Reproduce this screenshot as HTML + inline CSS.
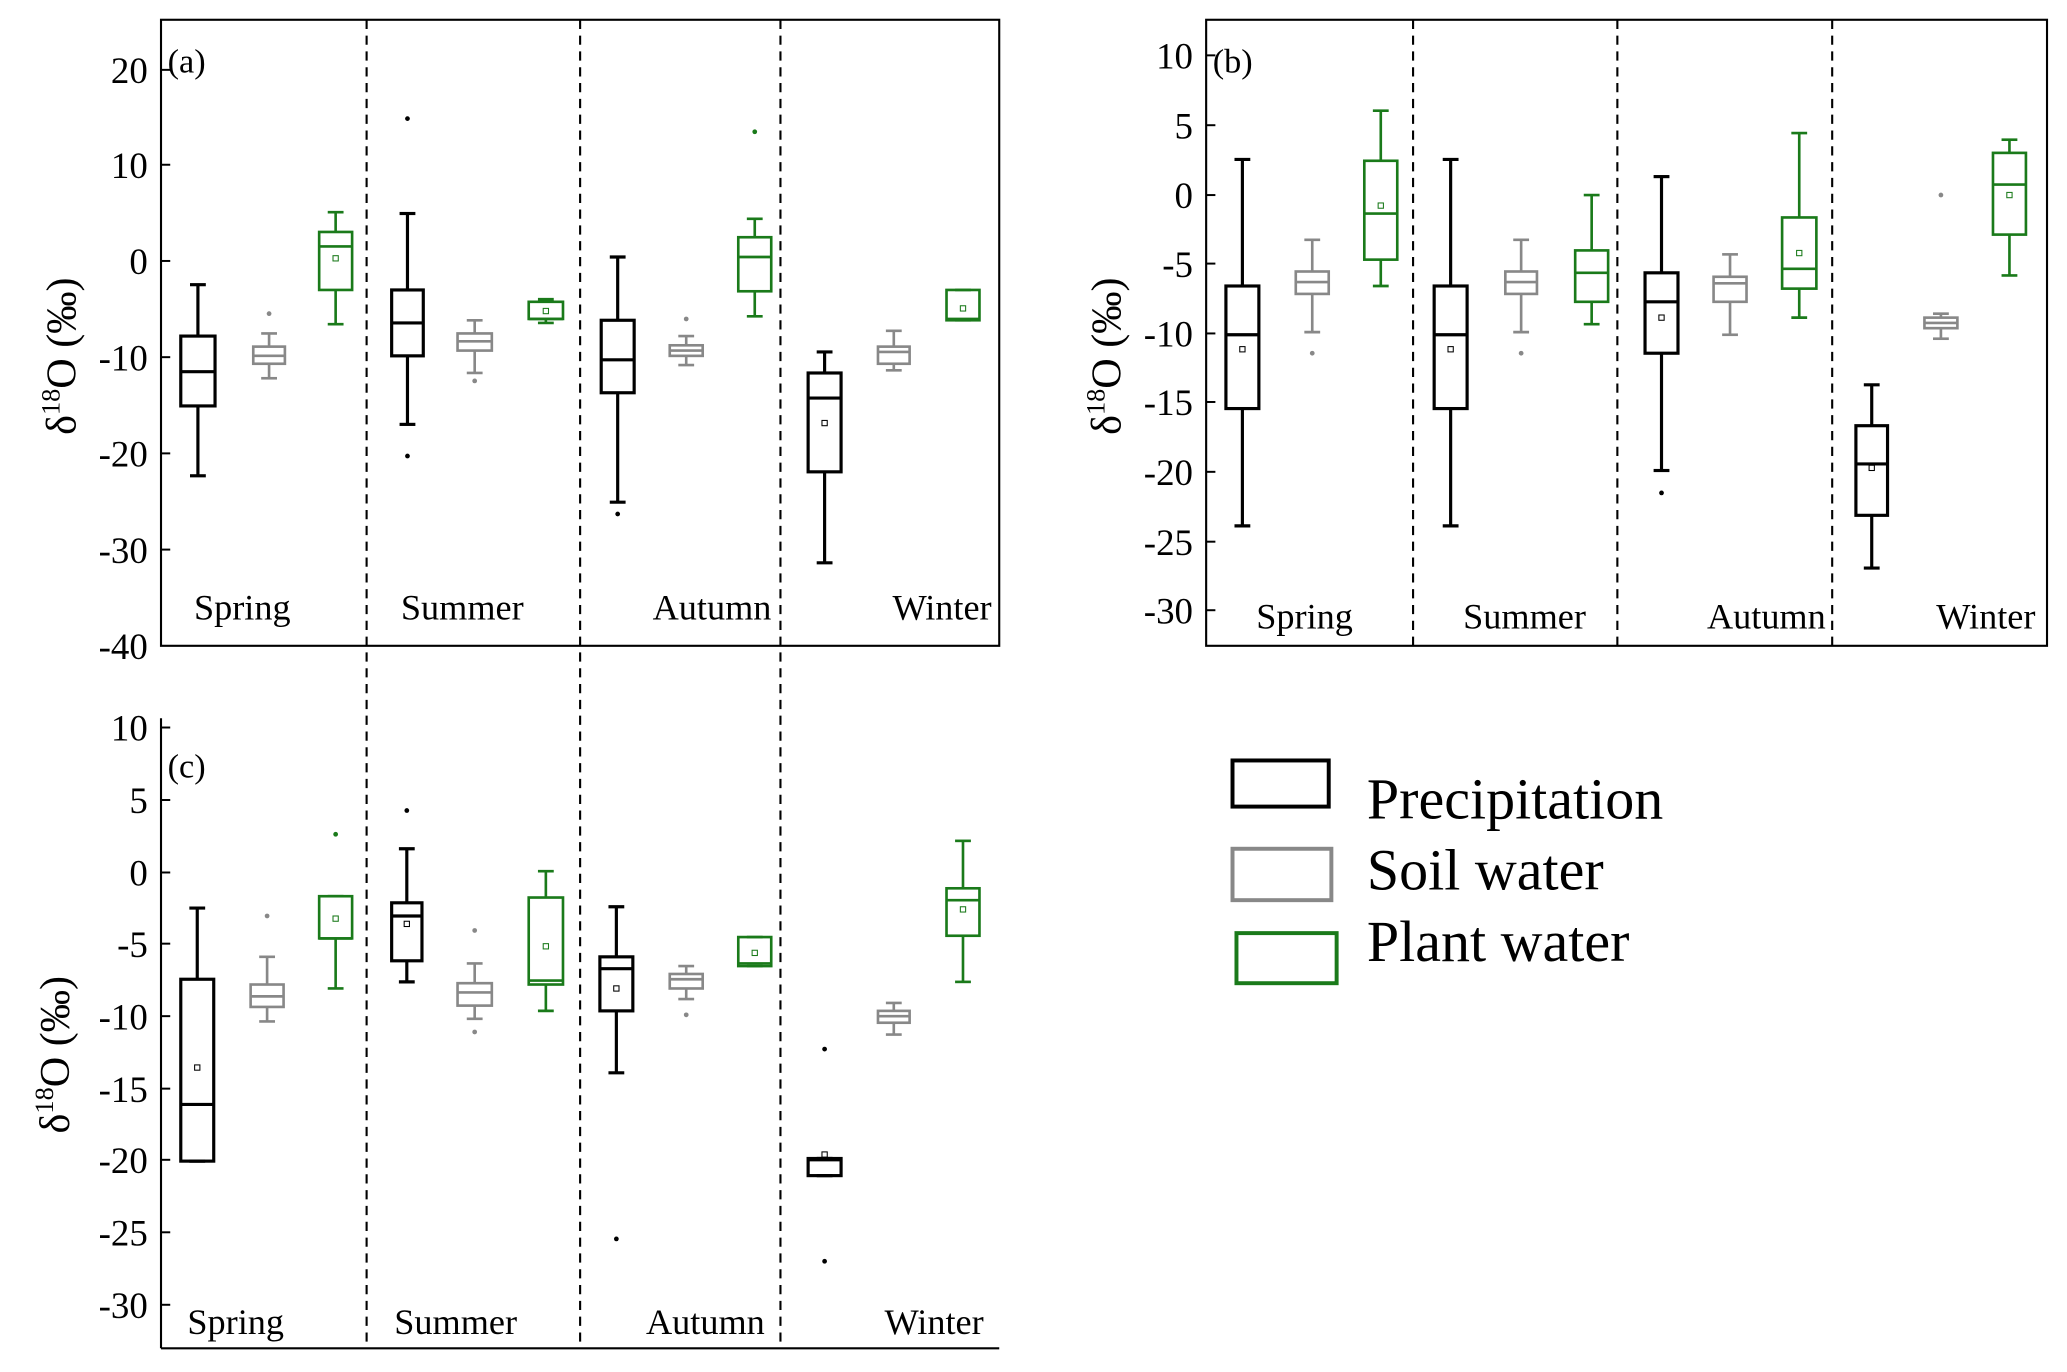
<!DOCTYPE html>
<html><head><meta charset="utf-8"><style>
html,body{margin:0;padding:0;background:#fff;}
svg{display:block}
text{font-family:"Liberation Serif",serif;fill:#000}
</style></head><body>
<svg id="s" width="2067" height="1372" viewBox="0 0 1568 1041" xmlns="http://www.w3.org/2000/svg">
<g stroke="#000" stroke-width="1.6" fill="none">
<rect x="122" y="15" width="636" height="475"/>
<rect x="915" y="15" width="638" height="475"/>
<line x1="122" y1="545" x2="122" y2="1023"/>
<line x1="122" y1="1023" x2="758" y2="1023"/>
</g>
<g stroke="#000" stroke-width="1.6" stroke-dasharray="7,5">
<line x1="278" y1="15" x2="278" y2="1023"/>
<line x1="440" y1="15" x2="440" y2="1023"/>
<line x1="592" y1="15" x2="592" y2="1023"/>
<line x1="1072" y1="15" x2="1072" y2="490"/>
<line x1="1227" y1="15" x2="1227" y2="490"/>
<line x1="1390" y1="15" x2="1390" y2="490"/>
</g>
<g id="ticks" stroke="#000" stroke-width="1.5"></g>
<g id="boxes"></g>
<g font-size="28" text-anchor="end">
<text x="112" y="63">20</text><text x="112" y="135">10</text><text x="112" y="208">0</text><text x="112" y="281">-10</text><text x="112" y="354">-20</text><text x="112" y="427">-30</text><text x="112" y="500">-40</text>
<text x="905" y="52">10</text><text x="905" y="105">5</text><text x="905" y="158">0</text><text x="905" y="210">-5</text><text x="905" y="263">-10</text><text x="905" y="315">-15</text><text x="905" y="368">-20</text><text x="905" y="421">-25</text><text x="905" y="473">-30</text>
<text x="112" y="562">10</text><text x="112" y="617">5</text><text x="112" y="672">0</text><text x="112" y="726">-5</text><text x="112" y="781">-10</text><text x="112" y="836">-15</text><text x="112" y="890">-20</text><text x="112" y="945">-25</text><text x="112" y="1000">-30</text>
</g>
<g font-size="26">
<text x="127" y="55">(a)</text><text x="920" y="55">(b)</text><text x="127" y="590">(c)</text>
</g>
<g font-size="27.5">
<text x="147" y="470">Spring</text><text x="304" y="470">Summer</text><text x="495" y="470">Autumn</text><text x="677" y="470">Winter</text>
<text x="953" y="477">Spring</text><text x="1110" y="477">Summer</text><text x="1295" y="477">Autumn</text><text x="1469" y="477">Winter</text>
<text x="142" y="1012">Spring</text><text x="299" y="1012">Summer</text><text x="490" y="1012">Autumn</text><text x="671" y="1012">Winter</text>
</g>
<g font-size="32">
<text transform="translate(57,330) rotate(-90)">δ<tspan font-size="20" dy="-12">18</tspan><tspan dy="12">O (‰)</tspan></text>
<text transform="translate(850,330) rotate(-90)">δ<tspan font-size="20" dy="-12">18</tspan><tspan dy="12">O (‰)</tspan></text>
<text transform="translate(52,860) rotate(-90)">δ<tspan font-size="20" dy="-12">18</tspan><tspan dy="12">O (‰)</tspan></text>
</g>
<g fill="none" stroke-width="3">
<rect x="935" y="577" width="73" height="35" stroke="#000"/>
<rect x="935" y="644" width="75" height="39" stroke="#888"/>
<rect x="938" y="708" width="76" height="38" stroke="#1a7a1a"/>
</g>
<g font-size="44">
<text x="1037" y="621">Precipitation</text>
<text x="1037" y="675">Soil water</text>
<text x="1037" y="729">Plant water</text>
</g>
</svg>
<script>
var K="#000",G="#888",V="#1a7a1a";
var B=[
[137,163,216,255,282,308,361,null,[],K],[192,216,253,263,270,276,287,null,[238],G],[242,267,161,176,187,220,246,196,[],V],
[297,321,162,220,245,270,322,null,[90,346],K],[347,373,243,253,259,266,283,null,[289],G],[401,427,227,229,242,242,245,236,[],V],
[456,481,195,243,273,298,381,null,[390],K],[508,533,255,262,266,270,277,null,[242],G],[560,585,166,180,195,221,240,null,[100],V],
[613,638,267,283,302,358,427,321,[],K],[666,690,251,263,267,276,281,null,[],G],[718,743,220,220,242,243,243,234,[],V],
[930,955,121,217,254,310,399,265,[],K],[983,1008,182,206,214,223,252,null,[268],G],[1035,1060,84,122,162,197,217,156,[],V],
[1088,1113,121,217,254,310,399,265,[],K],[1142,1166,182,206,214,223,252,null,[268],G],[1195,1220,148,190,207,229,246,null,[],V],
[1248,1273,134,207,229,268,357,241,[374],K],[1300,1325,193,210,215,229,254,null,[],G],[1352,1378,101,165,204,219,241,192,[],V],
[1408,1432,292,323,352,391,431,355,[],K],[1460,1485,238,241,245,249,257,null,[148],G],[1512,1537,106,116,140,178,209,148,[],V],
[137,162,689,743,838,881,881,810,[],K],[190,215,726,747,756,764,775,null,[695],G],[242,267,680,680,712,712,750,697,[633],V],
[297,320,644,685,695,729,745,701,[615],K],[347,373,731,746,753,763,773,null,[783,706],G],[401,427,661,681,744,747,767,718,[],V],
[455,480,688,726,735,767,814,750,[940],K],[508,533,733,739,743,750,758,null,[770],G],[560,585,711,711,731,733,733,723,[],V],
[613,638,879,879,880,892,892,876,[796,957],K],[666,690,761,767,771,776,785,null,[],G],[718,743,638,674,683,710,745,690,[],V]
];
var h="";
B.forEach(function(b){var x1=b[0],x2=b[1],c=(x1+x2)/2,col=b[9],w=b[9]==K?2.4:2;
h+='<g stroke="'+col+'" stroke-width="'+w+'" fill="none">';
h+='<line x1="'+c+'" y1="'+b[2]+'" x2="'+c+'" y2="'+b[3]+'"/><line x1="'+c+'" y1="'+b[5]+'" x2="'+c+'" y2="'+b[6]+'"/>';
h+='<line x1="'+(c-6)+'" y1="'+b[2]+'" x2="'+(c+6)+'" y2="'+b[2]+'"/><line x1="'+(c-6)+'" y1="'+b[6]+'" x2="'+(c+6)+'" y2="'+b[6]+'"/>';
h+='<rect x="'+x1+'" y="'+b[3]+'" width="'+(x2-x1)+'" height="'+Math.max(b[5]-b[3],2)+'"/>';
h+='<line x1="'+x1+'" y1="'+b[4]+'" x2="'+x2+'" y2="'+b[4]+'"/>';
if(b[7])h+='<rect x="'+(c-2)+'" y="'+(b[7]-2)+'" width="4" height="4" stroke-width="0.8"/>';
b[8].forEach(function(o){h+='<circle cx="'+c+'" cy="'+o+'" r="1.8" fill="'+col+'" stroke="none"/>';});
h+='</g>';});
document.getElementById("boxes").innerHTML=h;
var t="";
function tk(x,ys){ys.forEach(function(y){t+='<line x1="'+x+'" y1="'+y+'" x2="'+(x+7)+'" y2="'+y+'"/>';});}
tk(122,[53,125,198,271,344,417]);tk(915,[42,95,148,200,253,305,358,411,463]);tk(122,[552,607,662,716,771,826,880,935,990]);
document.getElementById("ticks").innerHTML=t;
</script>
</body></html>
